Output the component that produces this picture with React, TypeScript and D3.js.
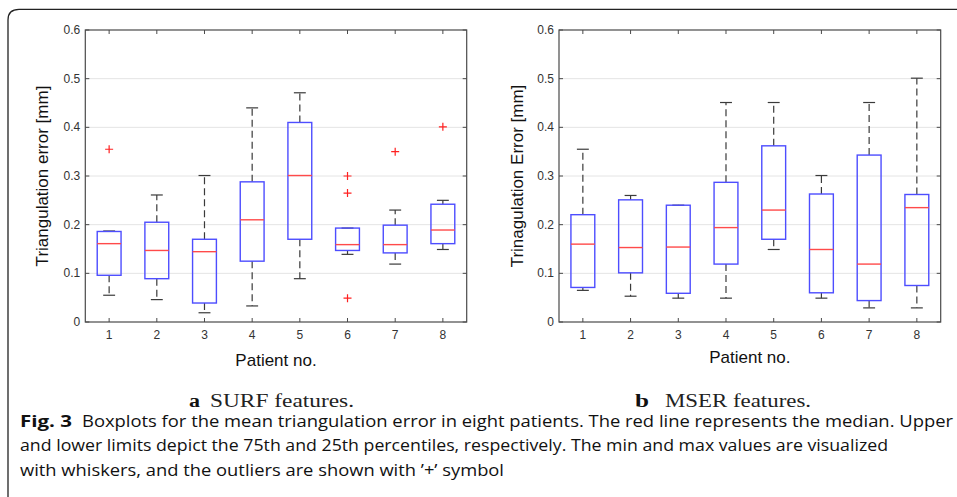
import React from 'react'
import * as d3 from 'd3'

// patient numbers on the x axis
const patients = [1, 2, 3, 4, 5, 6, 7, 8]
const yTicks = [0, 0.1, 0.2, 0.3, 0.4, 0.5, 0.6]

// SURF features (panel a)
const surfLow = [0.055, 0.046, 0.019, 0.033, 0.089, 0.139, 0.119, 0.149]
const surfQ1 = [0.096, 0.089, 0.039, 0.125, 0.170, 0.147, 0.142, 0.161]
const surfMedian = [0.161, 0.147, 0.1445, 0.210, 0.301, 0.159, 0.159, 0.189]
const surfQ3 = [0.186, 0.205, 0.170, 0.288, 0.410, 0.193, 0.199, 0.242]
const surfHigh = [0.187, 0.261, 0.301, 0.440, 0.471, 0.193, 0.230, 0.250]
const surfOutliers = [[0.355], [], [], [], [], [0.300, 0.265, 0.049], [0.350], [0.401]]

// MSER features (panel b)
const mserLow = [0.065, 0.053, 0.049, 0.049, 0.149, 0.049, 0.029, 0.029]
const mserQ1 = [0.071, 0.101, 0.059, 0.119, 0.170, 0.060, 0.044, 0.075]
const mserMedian = [0.160, 0.153, 0.154, 0.194, 0.230, 0.149, 0.119, 0.235]
const mserQ3 = [0.2205, 0.251, 0.240, 0.287, 0.362, 0.263, 0.343, 0.262]
const mserHigh = [0.355, 0.260, 0.240, 0.451, 0.451, 0.301, 0.451, 0.501]
const mserOutliers = [[], [], [], [], [], [], [], []]

const axisColor = '#4a4a4a'
const boxColor = '#4d4dff'
const medColor = '#ff4a4a'
const axisFont = 'Liberation Sans, Arial, sans-serif'

function BoxPanel(props) {
  const { x0, x1, low, q1, med, q3, high, outliers, yLabel, yLabelX, xTitleY } = props
  const top = 30, bottom = 322
  const x = d3.scaleLinear().domain([0.5, 8.5]).range([x0, x1])
  const y = d3.scaleLinear().domain([0, 0.6]).range([bottom, top])
  const bw = x(0.75) - x(0.5)   // half box width (0.25 units)
  const cw = x(0.625) - x(0.5)  // half cap width

  return (
    <g>
      {/* grid */}
      {yTicks.slice(1, -1).map(t => (
        <line key={'g' + t} x1={x0} x2={x1} y1={y(t)} y2={y(t)} stroke="#e4e4e4" strokeWidth={1} />
      ))}
      {/* whiskers */}
      {patients.map((p, i) => (
        <g key={'w' + p} stroke="#3a3a3a" strokeWidth={1.2}>
          <line x1={x(p)} x2={x(p)} y1={y(q3[i])} y2={y(high[i])} strokeDasharray="7,4" />
          <line x1={x(p)} x2={x(p)} y1={y(q1[i])} y2={y(low[i])} strokeDasharray="7,4" />
          <line x1={x(p) - cw} x2={x(p) + cw} y1={y(high[i])} y2={y(high[i])} />
          <line x1={x(p) - cw} x2={x(p) + cw} y1={y(low[i])} y2={y(low[i])} />
        </g>
      ))}
      {/* boxes */}
      {patients.map((p, i) => (
        <g key={'b' + p}>
          <rect x={x(p) - bw} y={y(q3[i])} width={2 * bw} height={y(q1[i]) - y(q3[i])}
            fill="none" stroke={boxColor} strokeWidth={1.4} />
          <line x1={x(p) - bw} x2={x(p) + bw} y1={y(med[i])} y2={y(med[i])} stroke={medColor} strokeWidth={1.4} />
        </g>
      ))}
      {/* outliers */}
      {patients.map((p, i) => outliers[i].map((v, j) => (
        <path key={'o' + p + '-' + j}
          d={`M${x(p) - 4},${y(v)}h8M${x(p)},${y(v) - 4}v8`}
          stroke="#ff2020" strokeWidth={1.2} fill="none" />
      )))}
      {/* box frame and ticks */}
      <rect x={x0} y={top} width={x1 - x0} height={bottom - top} fill="none" stroke={axisColor} strokeWidth={1.2} />
      {patients.map(p => (
        <g key={'xt' + p} stroke={axisColor} strokeWidth={1}>
          <line x1={x(p)} x2={x(p)} y1={bottom} y2={bottom - 4} />
          <line x1={x(p)} x2={x(p)} y1={top} y2={top + 4} />
        </g>
      ))}
      {yTicks.map(t => (
        <g key={'yt' + t} stroke={axisColor} strokeWidth={1}>
          <line x1={x0} x2={x0 + 4} y1={y(t)} y2={y(t)} />
          <line x1={x1} x2={x1 - 4} y1={y(t)} y2={y(t)} />
        </g>
      ))}
      {/* tick labels */}
      {patients.map(p => (
        <text key={'xl' + p} x={x(p)} y={bottom + 17} textAnchor="middle"
          fontFamily={axisFont} fontSize={12} fill="#333">{p}</text>
      ))}
      {yTicks.map(t => (
        <text key={'yl' + t} x={x0 - 5} y={y(t) + 4} textAnchor="end"
          fontFamily={axisFont} fontSize={12} fill="#333">{d3.format('')(t)}</text>
      ))}
      <text x={(x0 + x1) / 2} y={xTitleY} textAnchor="middle" fontFamily={axisFont} fontSize={17} fill="#111">Patient no.</text>
      <text transform={`translate(${yLabelX},${(top + bottom) / 2}) rotate(-90)`} textAnchor="middle"
        fontFamily={axisFont} fontSize={17} fill="#111">{yLabel}</text>
    </g>
  )
}

export default function App() {
  const capFont = 'Open Sans, Noto Sans, sans-serif'
  const serif = 'Liberation Serif, DejaVu Serif, serif'
  return (
    <svg width={957} height={497} style={{ position: 'absolute', left: 0, top: 0, background: '#fff' }}>
      <rect width={957} height={497} fill="#fff" />
      <path d="M8,497 V20 Q8,9.3 19,9.3 H957" fill="none" stroke="#222" strokeWidth={1.3} />

      <BoxPanel x0={85.3} x1={466.7} low={surfLow} q1={surfQ1} med={surfMedian} q3={surfQ3}
        high={surfHigh} outliers={surfOutliers} yLabel="Triangulation error [mm]" yLabelX={48} xTitleY={366} />
      <BoxPanel x0={559} x1={940.7} low={mserLow} q1={mserQ1} med={mserMedian} q3={mserQ3}
        high={mserHigh} outliers={mserOutliers} yLabel="Trinagulation Error [mm]" yLabelX={523} xTitleY={363} />

      {/* sub captions */}
      <text x={189} y={407} fontFamily={serif} fontWeight="bold" fontSize={18} fill="#111" textLength={11} lengthAdjust="spacingAndGlyphs">a</text>
      <text x={210} y={407} fontFamily={serif} fontWeight="normal" fontSize={18} fill="#222" textLength={144} lengthAdjust="spacingAndGlyphs">SURF features.</text>
      <text x={635} y={407} fontFamily={serif} fontWeight="bold" fontSize={18} fill="#111" textLength={14} lengthAdjust="spacingAndGlyphs">b</text>
      <text x={665} y={407} fontFamily={serif} fontWeight="normal" fontSize={18} fill="#222" textLength={146} lengthAdjust="spacingAndGlyphs">MSER features.</text>

      {/* figure caption */}
      <g fontFamily={capFont} fontSize={16} fill="#111">
        <text x={20} y={427} fontWeight="bold" textLength={52} lengthAdjust="spacingAndGlyphs">Fig. 3</text>
        <text x={82} y={427} textLength={871} lengthAdjust="spacingAndGlyphs">Boxplots for the mean triangulation error in eight patients. The red line represents the median. Upper</text>
        <text x={20} y={451} textLength={868} lengthAdjust="spacingAndGlyphs">and lower limits depict the 75th and 25th percentiles, respectively. The min and max values are visualized</text>
        <text x={20} y={476} textLength={484} lengthAdjust="spacingAndGlyphs">with whiskers, and the outliers are shown with ’+’ symbol</text>
      </g>
    </svg>
  )
}
